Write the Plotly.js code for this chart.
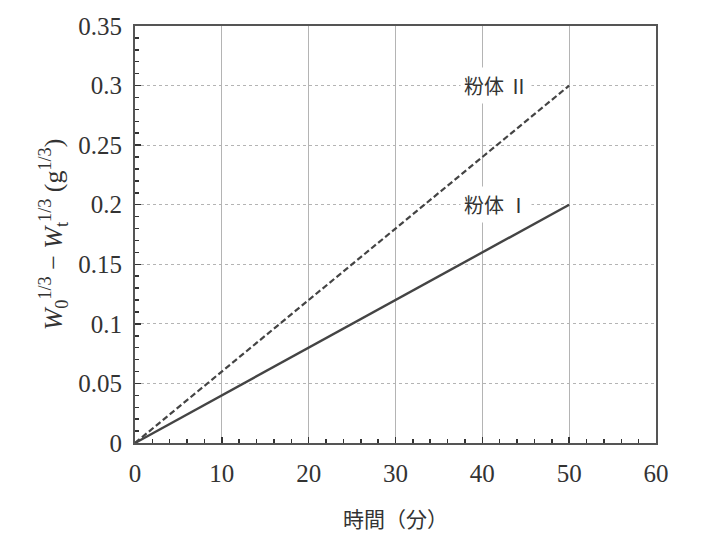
<!DOCTYPE html>
<html>
<head>
<meta charset="utf-8">
<script src="https://cdn.plot.ly/plotly-3.0.1.min.js"></script>
<style>
  html, body { margin: 0; padding: 0; background: #fff; }
  #chart { width: 713px; height: 548px; }
</style>
</head>
<body>
<div id="chart"></div>
<script>
// temps (min) et valeurs
const timeMin = [0, 50];
const powder1 = [0, 0.2];
const powder2 = [0, 0.3];
const labels = ['粉体 Ⅰ', '粉体 Ⅱ'];
const yTicks = [0, 0.05, 0.1, 0.15, 0.2, 0.25, 0.3, 0.35];
const xTicks = [0, 10, 20, 30, 40, 50, 60];

const serif = '"Liberation Serif", "DejaVu Serif", serif';
const cjk = '"Noto Sans CJK JP", "Liberation Serif", serif';
const ink = '#444';

let traces = [
  {
    x: timeMin, y: powder1, type: 'scatter', mode: 'lines',
    line: {color: ink, width: 2.4}, hoverinfo: 'skip'
  },
  {
    x: timeMin, y: powder2, type: 'scatter', mode: 'lines',
    line: {color: ink, width: 2.2, dash: '6px,3px'}, hoverinfo: 'skip'
  }
];

// étiquettes au bout des droites, fond blanc pour cacher la grille
let notes = [
  {x: timeMin[1], y: powder1[1], text: labels[0]},
  {x: timeMin[1], y: powder2[1], text: labels[1]}
].map(function(n)
{
  return {
    x: n.x - 8.4, y: n.y, xref: 'x', yref: 'y', text: n.text,
    showarrow: false, bgcolor: '#fff', borderpad: 3,
    font: {family: cjk, size: 20, color: '#333'}
  };
});

let layout = {
  width: 713, height: 548,
  margin: {l: 135, r: 57, t: 26, b: 105},
  paper_bgcolor: '#fff', plot_bgcolor: '#fff',
  showlegend: false,
  font: {family: serif, color: '#333'},
  xaxis: {
    range: [0, 60], tickvals: xTicks, ticktext: xTicks.map(String),
    showgrid: true, gridcolor: '#b4b4b4', gridwidth: 1,
    ticks: 'inside', ticklen: 6, tickwidth: 1.5, tickcolor: '#333',
    minor: {dtick: 2, ticks: 'inside', ticklen: 4, tickcolor: '#333', showgrid: false},
    showline: true, linecolor: '#555', linewidth: 2, mirror: true,
    zeroline: false, ticklabelstandoff: 7,
    tickfont: {family: serif, size: 25, color: '#333'},
    title: {text: '時間（分）', font: {family: cjk, size: 21, color: '#333'}, standoff: 26}
  },
  yaxis: {
    range: [0, 0.35], tickvals: yTicks, ticktext: yTicks.map(String),
    showgrid: true, gridcolor: '#b4b4b4', gridwidth: 1, griddash: 'dot',
    ticks: 'inside', ticklen: 6, tickwidth: 1.5, tickcolor: '#333',
    minor: {dtick: 0.01, ticks: 'inside', ticklen: 4, tickcolor: '#333', showgrid: false},
    showline: true, linecolor: '#555', linewidth: 2, mirror: true,
    zeroline: false, ticklabelstandoff: 6,
    tickfont: {family: serif, size: 25, color: '#333'},
    title: {
      text: '<i>W</i><sub>0</sub><sup>1/3</sup> − <i>W</i><sub>t</sub><sup>1/3</sup> (g<sup>1/3</sup>)',
      font: {family: serif, size: 26, color: '#333'}, standoff: 8
    }
  },
  annotations: notes
};

Plotly.newPlot('chart', traces, layout, {displayModeBar: false, staticPlot: true});
</script>
</body>
</html>
